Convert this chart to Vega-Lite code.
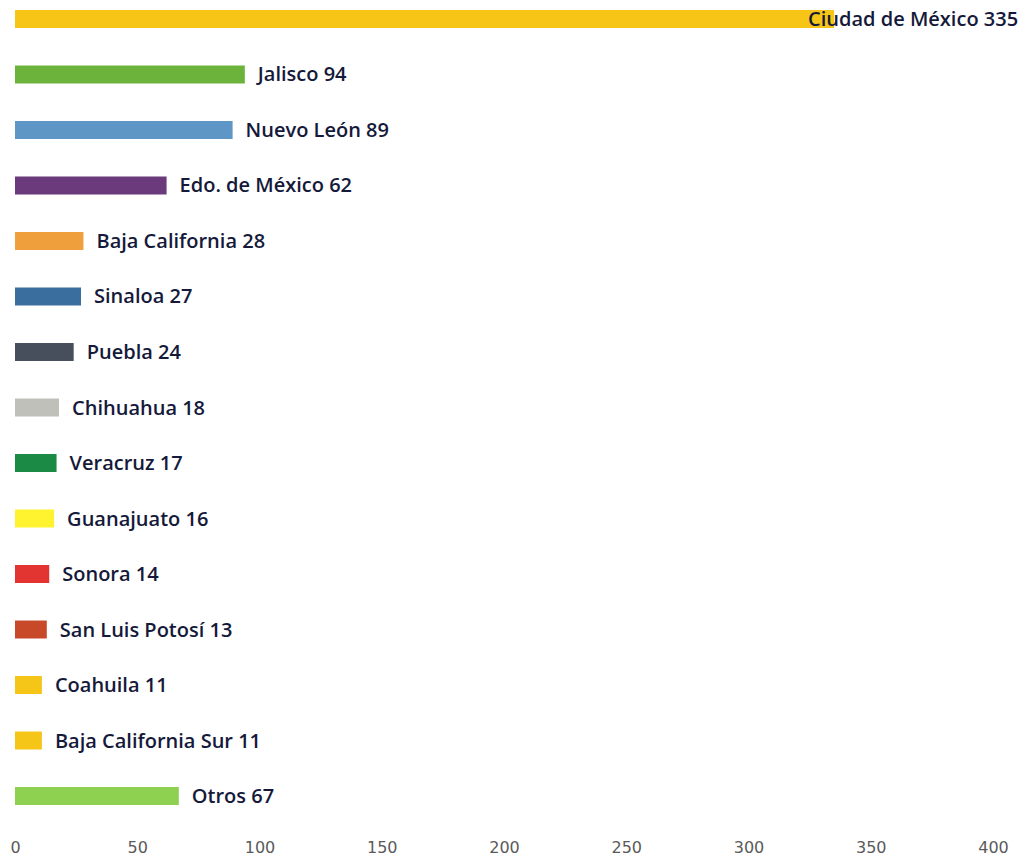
{
  "$schema": "https://vega.github.io/schema/vega-lite/v6.json",
  "width": 978,
  "height": 815,
  "autosize": "none",
  "padding": {"left": 15, "top": 0, "right": 37, "bottom": 44},
  "background": "#ffffff",
  "config": {"view": {"stroke": null}},
  "data": {
    "values": [
      {"estado": "Ciudad de México", "valor": 335, "etiqueta": "Ciudad de México 335"},
      {"estado": "Jalisco", "valor": 94, "etiqueta": "Jalisco 94"},
      {"estado": "Nuevo León", "valor": 89, "etiqueta": "Nuevo León 89"},
      {"estado": "Edo. de México", "valor": 62, "etiqueta": "Edo. de México 62"},
      {"estado": "Baja California", "valor": 28, "etiqueta": "Baja California 28"},
      {"estado": "Sinaloa", "valor": 27, "etiqueta": "Sinaloa 27"},
      {"estado": "Puebla", "valor": 24, "etiqueta": "Puebla 24"},
      {"estado": "Chihuahua", "valor": 18, "etiqueta": "Chihuahua 18"},
      {"estado": "Veracruz", "valor": 17, "etiqueta": "Veracruz 17"},
      {"estado": "Guanajuato", "valor": 16, "etiqueta": "Guanajuato 16"},
      {"estado": "Sonora", "valor": 14, "etiqueta": "Sonora 14"},
      {"estado": "San Luis Potosí", "valor": 13, "etiqueta": "San Luis Potosí 13"},
      {"estado": "Coahuila", "valor": 11, "etiqueta": "Coahuila 11"},
      {"estado": "Baja California Sur", "valor": 11, "etiqueta": "Baja California Sur 11"},
      {"estado": "Otros", "valor": 67, "etiqueta": "Otros 67"}
    ]
  },
  "encoding": {
    "y": {
      "field": "estado", "type": "nominal", "sort": null,
      "scale": {"paddingInner": 0.676, "paddingOuter": 0.18},
      "axis": null
    },
    "x": {
      "field": "valor", "type": "quantitative",
      "scale": {"domain": [0, 400], "nice": false},
      "axis": {
        "values": [0, 50, 100, 150, 200, 250, 300, 350, 400],
        "domain": false, "ticks": false, "tickSize": 0, "grid": false,
        "labelFlush": false,
        "labelPadding": 24, "labelFontSize": 16, "labelFont": "DejaVu Sans", "labelFontWeight": "normal",
        "labelColor": "#5a5a5a", "title": null
      }
    }
  },
  "layer": [
    {
      "mark": {"type": "bar"},
      "encoding": {
        "color": {
          "field": "estado", "type": "nominal", "legend": null,
          "scale": {
            "domain": ["Ciudad de México", "Jalisco", "Nuevo León", "Edo. de México", "Baja California", "Sinaloa", "Puebla", "Chihuahua", "Veracruz", "Guanajuato", "Sonora", "San Luis Potosí", "Coahuila", "Baja California Sur", "Otros"],
            "range": ["#F6C516", "#6BB33A", "#5E97C6", "#6B3A7D", "#EFA03C", "#3A6E9E", "#474E5C", "#C0C0BB", "#1A8A44", "#FFF22E", "#E23430", "#C8482A", "#F5C518", "#F5C518", "#8ED050"]
          }
        }
      }
    },
    {
      "transform": [{"filter": "datum.estado !== 'Ciudad de México'"}],
      "mark": {"type": "text", "align": "left", "baseline": "middle", "dx": 13, "dy": 1, "font": "Open Sans", "fontSize": 20, "fontWeight": 600, "color": "#15193A"},
      "encoding": {"text": {"field": "etiqueta"}}
    },
    {
      "transform": [{"filter": "datum.estado === 'Ciudad de México'"}],
      "mark": {"type": "text", "align": "left", "baseline": "middle", "dx": -26, "dy": 1, "font": "Open Sans", "fontSize": 20, "fontWeight": 600, "color": "#15193A"},
      "encoding": {"text": {"field": "etiqueta"}}
    }
  ]
}
